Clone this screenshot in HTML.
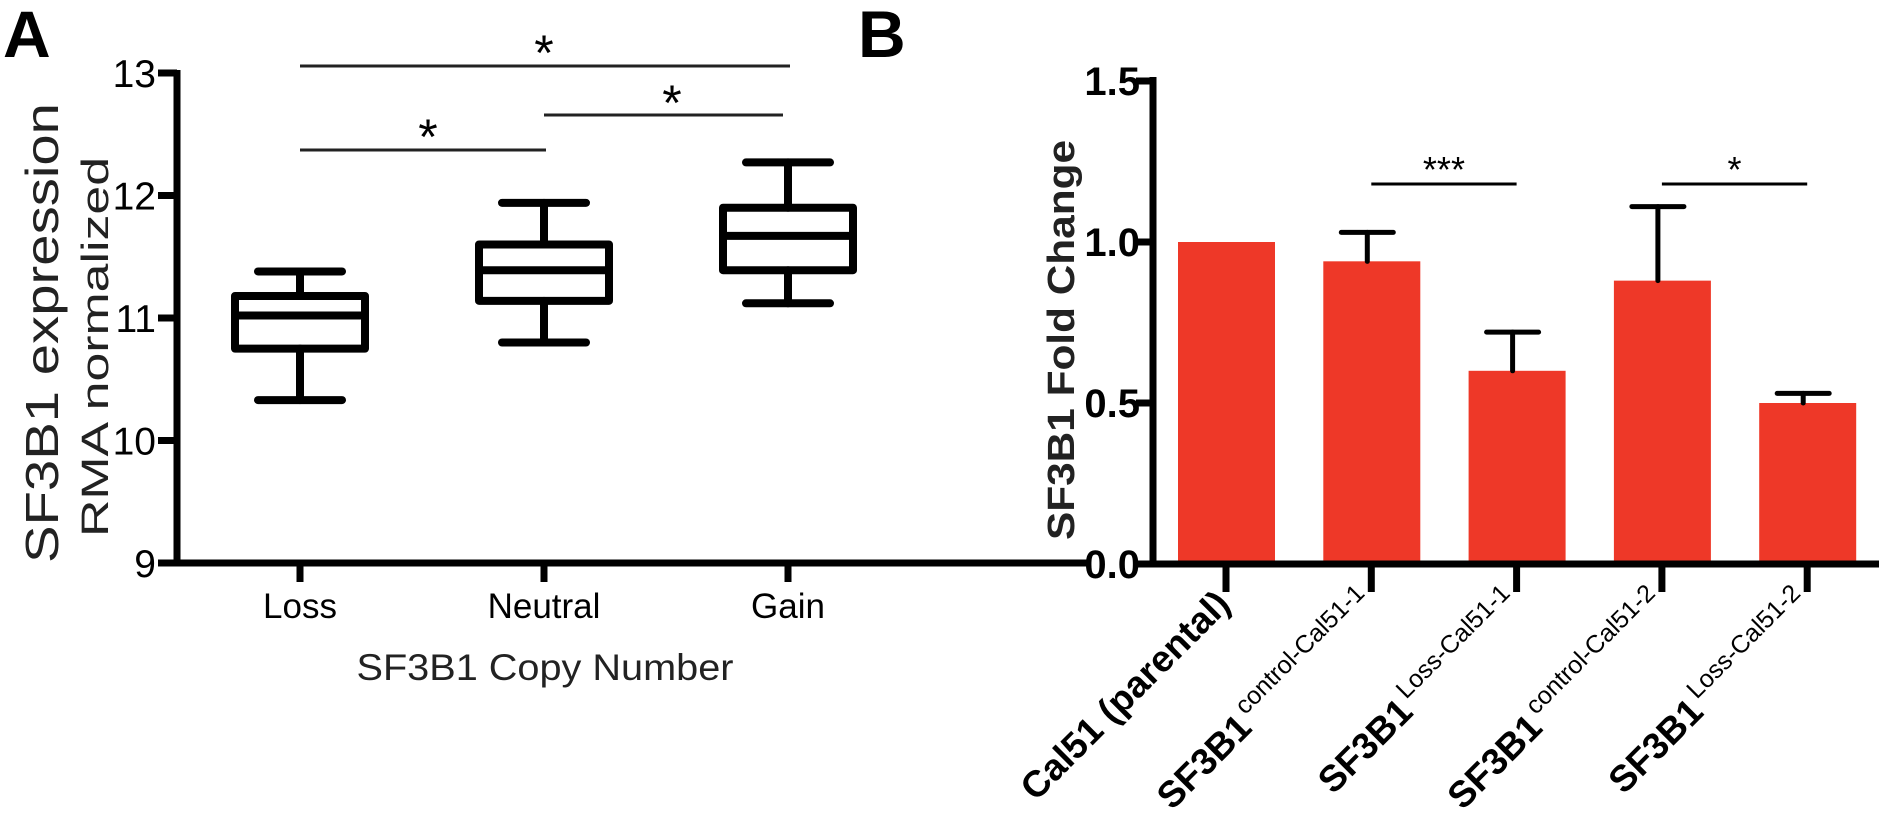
<!DOCTYPE html>
<html><head><meta charset="utf-8"><style>
html,body{margin:0;padding:0;background:#fff;}
svg{display:block;font-family:"Liberation Sans",Arial,sans-serif;}
</style></head><body>
<svg id="chart" width="1879" height="814" viewBox="0 0 1879 814" xmlns="http://www.w3.org/2000/svg">
<text x="3" y="57" font-size="66" font-weight="bold">A</text>
<text x="858" y="57" font-size="66" font-weight="bold">B</text>
<g id="pa"></g>
<g id="pb"></g>
</svg>
<script>
// Panel A data
const catsA = ["Loss","Neutral","Gain"];
const whiskLow = [10.33, 10.80, 11.12];
const q1 = [10.75, 11.14, 11.39];
const median = [11.02, 11.39, 11.67];
const q3 = [11.18, 11.60, 11.90];
const whiskHigh = [11.38, 11.94, 12.27];
const ticksA = [9,10,11,12,13];
// Panel B data
const catsB = ["Cal51 (parental)","SF3B1","SF3B1","SF3B1","SF3B1"];
const supB = ["","control-Cal51-1","Loss-Cal51-1","control-Cal51-2","Loss-Cal51-2"];
const meanB = [1.0, 0.94, 0.60, 0.88, 0.50];
const errB = [0, 0.09, 0.12, 0.23, 0.03];
const ticksB = ["0.0","0.5","1.0","1.5"];

const NS="http://www.w3.org/2000/svg";
function mk(p,t,a){const e=document.createElementNS(NS,t);for(const k in a)e.setAttribute(k,a[k]);p.appendChild(e);return e;}

// ---- Panel A
const pa=document.getElementById('pa');
const yA=v=>563-(v-9)*122.5;
const xA=i=>300+i*244;
let e=mk(pa,'line',{x1:177,y1:70,x2:177,y2:566,stroke:'#000','stroke-width':7});

e=mk(pa,'line',{x1:174,y1:563,x2:1091,y2:563,stroke:'#000','stroke-width':7});

ticksA.forEach(t=>{
  let l=mk(pa,'line',{x1:158,y1:yA(t),x2:177,y2:yA(t),stroke:'#000','stroke-width':7});
  
  let tx=mk(pa,'text',{x:156,y:yA(t)+14,'font-size':39,'text-anchor':'end'});
  tx.textContent=t;
  
});
catsA.forEach((c,i)=>{
  const x=xA(i);
  let l=mk(pa,'line',{x1:x,y1:563,x2:x,y2:582,stroke:'#000','stroke-width':7});
  
  let tx=mk(pa,'text',{x:x,y:618,'font-size':35,'text-anchor':'middle'});tx.textContent=c;
  
  const g=mk(pa,'g',{stroke:'#000','stroke-width':8,fill:'none','stroke-linecap':'round'});
  
  mk(g,'rect',{x:x-65,y:yA(q3[i]),width:130,height:yA(q1[i])-yA(q3[i]),'stroke-linejoin':'round'});
  mk(g,'line',{x1:x-65,y1:yA(median[i]),x2:x+65,y2:yA(median[i])});
  mk(g,'line',{x1:x,y1:yA(q3[i]),x2:x,y2:yA(whiskHigh[i])});
  mk(g,'line',{x1:x,y1:yA(q1[i]),x2:x,y2:yA(whiskLow[i])});
  mk(g,'line',{x1:x-42,y1:yA(whiskHigh[i]),x2:x+42,y2:yA(whiskHigh[i])});
  mk(g,'line',{x1:x-42,y1:yA(whiskLow[i]),x2:x+42,y2:yA(whiskLow[i])});
});
[[0,2,66,'*',50],[0,1,150,'*',134],[1,2,115,'*',100]].forEach(s=>{
  let l=mk(pa,'line',{x1:xA(s[0]),y1:s[2],x2:xA(s[1])-(s[0]==1?5:-2),y2:s[2],stroke:'#222','stroke-width':3});
  
  let t=mk(pa,'text',{x:(xA(s[0])+xA(s[1]))/2+(s[1]-s[0]==1?6:0),y:s[4]+20,'font-size':50,'text-anchor':'middle'});t.textContent=s[3];
  
});
e=mk(pa,'text',{transform:'translate(58,333) rotate(-90)','font-size':46,'text-anchor':'middle',fill:'#222',textLength:460,lengthAdjust:'spacingAndGlyphs'});
e.textContent='SF3B1 expression';
e=mk(pa,'text',{transform:'translate(108,347) rotate(-90)','font-size':38,'text-anchor':'middle',fill:'#222',textLength:380,lengthAdjust:'spacingAndGlyphs'});
e.textContent='RMA normalized';
e=mk(pa,'text',{x:545,y:680,'font-size':37,'text-anchor':'middle',fill:'#222',textLength:377,lengthAdjust:'spacingAndGlyphs'});
e.textContent='SF3B1 Copy Number';

// ---- Panel B
const pb=document.getElementById('pb');
const yB=v=>564-v*322;
const xB=i=>1226+i*145.3;
catsB.forEach((c,i)=>{
  const x=xB(i);
  let r=mk(pb,'rect',{x:x-48,y:yB(meanB[i]),width:97,height:564-yB(meanB[i]),fill:'#EE3828'});
  
  if(errB[i]>0){
    const g=mk(pb,'g',{stroke:'#000','stroke-width':5,'stroke-linecap':'round'});
    
    mk(g,'line',{x1:x-4,y1:yB(meanB[i]),x2:x-4,y2:yB(meanB[i]+errB[i])});
    mk(g,'line',{x1:x-30,y1:yB(meanB[i]+errB[i]),x2:x+22,y2:yB(meanB[i]+errB[i])});
  }
  let l=mk(pb,'line',{x1:x,y1:564,x2:x,y2:592,stroke:'#000','stroke-width':7});
  
  let t=mk(pb,'text',{transform:`translate(${x+6},606) rotate(-45)`,'font-size':37,'font-weight':'bold','text-anchor':'end'});
  
  if(supB[i]){
    const a=mk(t,'tspan',{});a.textContent=c;
    const b=mk(t,'tspan',{'font-size':25,'font-weight':'normal',dy:-16,dx:4});b.textContent=supB[i];
  } else t.textContent=c;
});
e=mk(pb,'line',{x1:1153,y1:77,x2:1153,y2:567,stroke:'#000','stroke-width':7});

e=mk(pb,'line',{x1:1150,y1:564,x2:1879,y2:564,stroke:'#000','stroke-width':7});

ticksB.forEach(t=>{
  const v=parseFloat(t);
  let l=mk(pb,'line',{x1:1136,y1:yB(v),x2:1153,y2:yB(v),stroke:'#000','stroke-width':7});
  
  let tx=mk(pb,'text',{x:1140,y:yB(v)+14,'font-size':40,'font-weight':'bold','text-anchor':'end'});tx.textContent=t;
  
});
[[1,2,'***'],[3,4,'*']].forEach(s=>{
  let l=mk(pb,'line',{x1:xB(s[0]),y1:184,x2:xB(s[1]),y2:184,stroke:'#000','stroke-width':3});
  
  let t=mk(pb,'text',{x:(xB(s[0])+xB(s[1]))/2,y:182,'font-size':36,'text-anchor':'middle'});t.textContent=s[2];
  
});
e=mk(pb,'text',{transform:'translate(1074,340) rotate(-90)','font-size':38,'font-weight':'bold','text-anchor':'middle',fill:'#222',textLength:400,lengthAdjust:'spacingAndGlyphs'});
e.textContent='SF3B1 Fold Change';
</script>
</body></html>
